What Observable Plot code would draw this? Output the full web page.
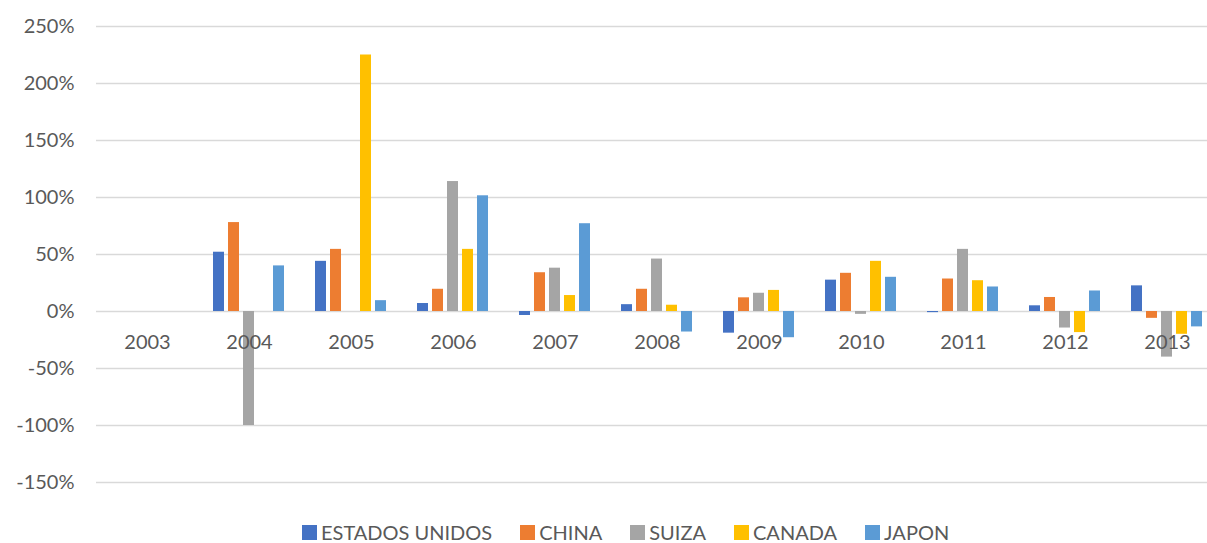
<!DOCTYPE html>
<html>
<head>
<meta charset="utf-8">
<script src="https://cdn.jsdelivr.net/npm/d3@7"></script>
<script src="https://cdn.jsdelivr.net/npm/@observablehq/plot@0.6"></script>
<style>
  html, body { margin: 0; padding: 0; background: #fff; overflow: hidden; width: 1207px; height: 543px; }
  #chart { width: 1220px; }
  #chart svg { display: block; max-width: none !important; width: 1220px !important; height: 512px !important; }
  #legend { display: flex; align-items: center; margin-top: 10px; padding-left: 302px; height: 20px; line-height: 20px;
    font-family: Lato, "Open Sans", sans-serif; font-size: 20px; color: #595959; white-space: nowrap; }
  .item { display: flex; align-items: center; margin-right: 28px; line-height: 20px; }
  .sw { width: 15px; height: 15px; margin-right: 4px; display: inline-block; }
</style>
</head>
<body>
<div id="chart"></div>
<div id="legend"></div>
<script>
const years = ["2003","2004","2005","2006","2007","2008","2009","2010","2011","2012","2013"];
const seriesNames = ["ESTADOS UNIDOS","CHINA","SUIZA","CANADA","JAPON"];
const seriesColors = ["#4472C4","#ED7D31","#A5A5A5","#FFC000","#5B9BD5"];
const estadosUnidos = [0, 52, 44, 7, -3.5, 6, -19, 27.5, -1, 5, 22.5];
const china         = [0, 78, 54.5, 19.5, 34, 19.5, 12, 33.5, 28.5, 12.3, -6];
const suiza         = [0, -100, 0, 114, 38, 46, 16, -2.5, 54.5, -14.5, -40];
const canada        = [0, 0, 225, 54.5, 14, 5.5, 18.5, 44, 27, -18.5, -20];
const japon         = [0, 40, 9.5, 101.5, 77, -18, -23, 30, 21.5, 18, -13.5];
const yTicks = [-150, -100, -50, 0, 50, 100, 150, 200, 250];

const seriesValues = [estadosUnidos, china, suiza, canada, japon];
const data = [];
years.forEach((yr, i) => {
  seriesNames.forEach((s, j) => {
    data.push({year: yr, series: s, value: seriesValues[j][i]});
  });
});

const chart = Plot.plot({
  width: 1220,
  height: 512,
  marginLeft: 93,
  marginRight: 0,
  marginTop: 26,
  marginBottom: 30,
  style: {fontFamily: "Lato, 'Open Sans', sans-serif", fontSize: "20px", color: "#595959", background: "#fff"},
  fx: {domain: years, padding: 0, axis: null},
  x: {domain: seriesNames, paddingInner: 0.25, paddingOuter: 0.88, axis: null},
  y: {domain: [-150, 250], ticks: yTicks, tickSize: 0, tickPadding: 22, tickFormat: d => d + "%", label: null},
  color: {domain: seriesNames, range: seriesColors},
  marks: [
    Plot.ruleY(yTicks, {stroke: "#D9D9D9", strokeWidth: 1.5}),
    Plot.barY(data, {fx: "year", x: "series", y: "value", fill: "series"}),
    Plot.text(years, {fx: d => d, y: 0, text: d => d, dy: 31, fill: "#595959", fontSize: 20, lineAnchor: "middle"})
  ]
});
document.getElementById("chart").appendChild(chart);

const legend = document.getElementById("legend");
seriesNames.forEach((s, i) => {
  const it = document.createElement("div");
  it.className = "item";
  const sw = document.createElement("span");
  sw.className = "sw";
  sw.style.background = seriesColors[i];
  const t = document.createElement("span");
  t.textContent = s;
  it.appendChild(sw); it.appendChild(t);
  legend.appendChild(it);
});
</script>
</body>
</html>
